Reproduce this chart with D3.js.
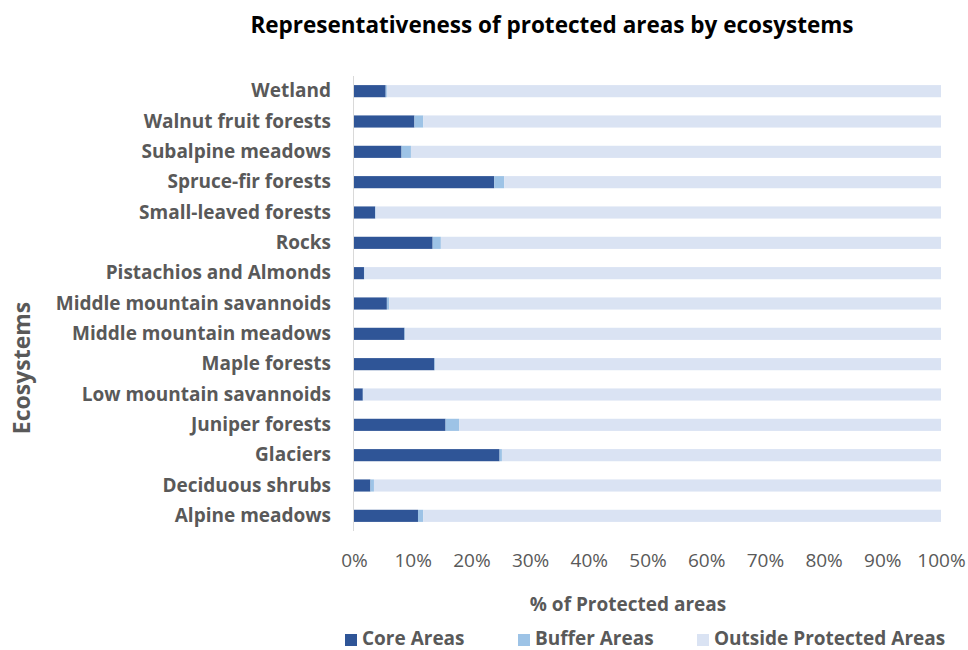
<!DOCTYPE html>
<html>
<head>
<meta charset="utf-8">
<script src="https://cdn.jsdelivr.net/npm/d3@7"></script>
<style>
  body { margin: 0; background: #fff; }
  svg text { font-family: "Open Sans", sans-serif; }
</style>
</head>
<body>
<div id="chart"></div>
<script>
// ecosystems, top to bottom as in the chart
var ecosystems = ["Wetland", "Walnut fruit forests", "Subalpine meadows", "Spruce-fir forests",
  "Small-leaved forests", "Rocks", "Pistachios and Almonds", "Middle mountain savannoids",
  "Middle mountain meadows", "Maple forests", "Low mountain savannoids", "Juniper forests",
  "Glaciers", "Deciduous shrubs", "Alpine meadows"];
var coreAreas    = [5.4, 10.3, 8.1, 23.9, 3.6, 13.4, 1.7, 5.6, 8.6, 13.7, 1.5, 15.6, 24.8, 2.8, 10.9];
var bufferAreas  = [0.2, 1.5, 1.6, 1.7, 0.1, 1.4, 0.1, 0.4, 0.1, 0.1, 0.1, 2.3, 0.4, 0.6, 0.9];
var seriesNames  = ["Core Areas", "Buffer Areas", "Outside Protected Areas"];
var xTicks = [0, 10, 20, 30, 40, 50, 60, 70, 80, 90, 100];

var colors = ["#2f5597", "#9dc3e6", "#dae3f3"];
var width = 968, height = 650;

var svg = d3.select("#chart").append("svg")
    .attr("width", width)
    .attr("height", height);

var x = d3.scaleLinear().domain([0, 100]).range([354, 941]);
var y = d3.scaleBand().domain(ecosystems).range([76, 531]).paddingInner(0.6).paddingOuter(0.3);

var rows = ecosystems.map(function(name, i) {
  return { name: name, core: coreAreas[i], buffer: bufferAreas[i],
           outside: 100 - coreAreas[i] - bufferAreas[i] };
});
var stack = d3.stack().keys(["core", "buffer", "outside"])(rows);

svg.append("g")
  .selectAll("g")
  .data(stack)
  .join("g")
    .attr("fill", function(d, i) { return colors[i]; })
  .selectAll("rect")
  .data(function(d) { return d; })
  .join("rect")
    .attr("x", function(d) { return x(d[0]); })
    .attr("width", function(d) { return x(d[1]) - x(d[0]); })
    .attr("y", function(d) { return y(d.data.name); })
    .attr("height", y.bandwidth());

// vertical axis line
svg.append("line")
    .attr("x1", 353.5).attr("x2", 353.5)
    .attr("y1", 76).attr("y2", 531)
    .attr("stroke", "#d9d9d9");

// category labels
var yAxis = svg.append("g")
    .attr("transform", "translate(331,0)")
    .call(d3.axisLeft(y).tickSize(0).tickPadding(0));
yAxis.select(".domain").remove();
yAxis.selectAll("text")
    .attr("font-family", "Open Sans")
    .attr("font-size", 19)
    .attr("font-weight", "bold")
    .attr("fill", "#595959");

// x tick labels
var xAxis = svg.append("g")
    .attr("transform", "translate(0,550)")
    .call(d3.axisBottom(x).tickValues(xTicks).tickSize(0)
      .tickFormat(function(d) { return d + "%"; }));
xAxis.select(".domain").remove();
xAxis.selectAll("text")
    .attr("font-family", "Open Sans")
    .attr("font-size", 19)
    .attr("fill", "#595959");

svg.append("text")
    .attr("x", 552).attr("y", 33)
    .attr("text-anchor", "middle")
    .attr("font-size", 22.5)
    .attr("font-weight", "bold")
    .attr("fill", "#000")
    .text("Representativeness of protected areas by ecosystems");

svg.append("text")
    .attr("x", 628).attr("y", 611)
    .attr("text-anchor", "middle")
    .attr("font-size", 19)
    .attr("font-weight", "bold")
    .attr("fill", "#595959")
    .text("% of Protected areas");

svg.append("text")
    .attr("transform", "translate(30,368) rotate(-90)")
    .attr("text-anchor", "middle")
    .attr("font-size", 23)
    .attr("font-weight", "bold")
    .attr("fill", "#595959")
    .text("Ecosystems");

// legend
var legendX = [345, 518, 697];
var legend = svg.append("g")
  .selectAll("g")
  .data(seriesNames)
  .join("g")
    .attr("transform", function(d, i) { return "translate(" + legendX[i] + ",640)"; });
legend.append("rect")
    .attr("x", 0).attr("y", -6)
    .attr("width", 12).attr("height", 12)
    .attr("fill", function(d, i) { return colors[i]; });
legend.append("text")
    .attr("x", 17).attr("y", 5)
    .attr("font-size", 19)
    .attr("font-weight", "bold")
    .attr("fill", "#595959")
    .text(function(d) { return d; });
</script>
</body>
</html>
